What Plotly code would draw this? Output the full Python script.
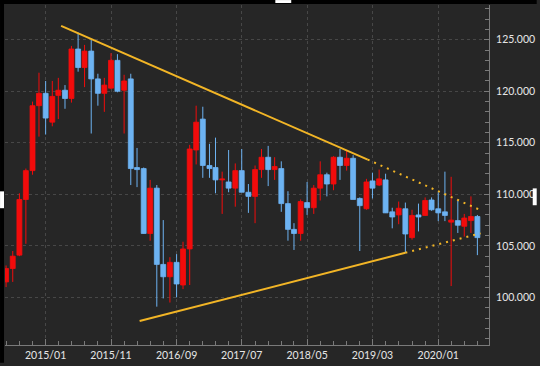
import plotly.graph_objects as go

months = [
    "2014-07", "2014-08", "2014-09", "2014-10", "2014-11", "2014-12",
    "2015-01", "2015-02", "2015-03", "2015-04", "2015-05", "2015-06",
    "2015-07", "2015-08", "2015-09", "2015-10", "2015-11", "2015-12",
    "2016-01", "2016-02", "2016-03", "2016-04", "2016-05", "2016-06",
    "2016-07", "2016-08", "2016-09", "2016-10", "2016-11", "2016-12",
    "2017-01", "2017-02", "2017-03", "2017-04", "2017-05", "2017-06",
    "2017-07", "2017-08", "2017-09", "2017-10", "2017-11", "2017-12",
    "2018-01", "2018-02", "2018-03", "2018-04", "2018-05", "2018-06",
    "2018-07", "2018-08", "2018-09", "2018-10", "2018-11", "2018-12",
    "2019-01", "2019-02", "2019-03", "2019-04", "2019-05", "2019-06",
    "2019-07", "2019-08", "2019-09", "2019-10", "2019-11", "2019-12",
    "2020-01", "2020-02", "2020-03", "2020-04", "2020-05", "2020-06",
    "2020-07",
]
open_ = [
    101.5, 102.8, 104.1, 109.5, 112.3, 118.6,
    119.8, 117.0, 119.6, 120.1, 119.3, 124.1,
    122.3, 123.9, 121.2, 119.8, 120.3, 123.0,
    120.1, 121.2, 112.6, 112.5, 106.2, 110.6,
    103.2, 102.0, 103.4, 101.2, 104.7, 114.3,
    117.3, 112.8, 112.6, 111.4, 111.2, 110.6,
    112.3, 110.2, 109.8, 112.4, 113.6, 112.4,
    112.5, 109.1, 106.6, 106.2, 109.2, 108.7,
    110.6, 111.9, 111.0, 113.6, 112.8, 113.5,
    109.6, 108.6, 111.3, 110.9, 111.4, 108.3,
    108.0, 108.6, 105.8, 108.0, 107.95, 109.45,
    108.6, 108.3, 107.3, 107.45, 106.9, 107.45,
    107.85,
]
high = [
    103.1, 104.5, 110.1, 112.5, 119.0, 121.8,
    121.0, 121.0, 121.3, 120.6, 124.4, 125.7,
    124.5, 125.0, 121.7, 121.3, 123.7, 123.6,
    121.6, 121.7, 114.5, 112.6, 111.4, 110.9,
    107.5, 103.9, 104.2, 105.4, 114.8, 118.6,
    118.5, 114.9, 115.5, 112.2, 114.3, 113.0,
    114.4, 111.0, 112.8, 114.4, 114.7, 113.6,
    113.2, 110.3, 107.2, 109.5, 111.2, 110.9,
    113.2, 112.1, 113.7, 114.4, 114.2, 113.8,
    109.7, 111.5, 112.1, 112.4, 112.0, 108.7,
    109.3, 109.2, 108.5, 109.1, 109.7, 109.7,
    110.2, 112.2, 111.7, 109.4, 108.1, 109.8,
    108.0,
]
low = [
    101.0, 101.5, 104.0, 105.2, 111.9, 115.6,
    115.8, 116.6, 117.3, 118.3, 118.9, 121.9,
    120.4, 115.9, 118.6, 118.0, 120.2, 119.9,
    115.9, 110.9, 110.7, 106.2, 105.5, 99.1,
    99.9, 99.5, 100.0, 100.8, 101.2, 112.9,
    111.6, 111.6, 110.1, 108.1, 110.2, 108.8,
    110.6, 108.2, 107.2, 111.6, 110.8, 111.4,
    108.3, 105.5, 104.6, 105.5, 108.0, 108.1,
    109.4, 109.8, 110.4, 111.4, 112.3, 109.6,
    104.5, 108.5, 109.6, 110.8, 108.2, 106.7,
    107.1, 104.3, 105.6, 106.4, 107.9, 108.4,
    107.4, 107.4, 101.1, 106.25, 105.9, 106.25,
    104.1,
]
close = [
    102.8, 104.0, 109.5, 112.3, 118.6, 119.8,
    117.4, 119.5, 120.1, 119.3, 124.1, 122.3,
    123.9, 121.2, 119.8, 120.6, 123.0, 120.0,
    121.0, 112.5, 112.4, 106.2, 110.6, 103.2,
    102.0, 103.4, 101.3, 104.7, 114.4, 117.0,
    112.8, 112.5, 111.4, 111.5, 110.6, 112.3,
    110.2, 109.8, 112.4, 113.6, 112.4, 112.7,
    109.1, 106.6, 106.2, 109.3, 108.7, 110.6,
    111.9, 111.0, 113.6, 112.8, 113.5, 109.5,
    108.9, 111.2, 110.6, 111.5, 108.2, 107.8,
    108.65, 106.15, 107.95, 107.8, 109.4, 108.5,
    108.2, 107.95, 107.5, 107.0, 107.7, 107.85,
    105.8,
]

# triangle trendlines (date, value)
upper_solid_x = ["2015-03-14", "2019-02-07"]
upper_solid_y = [126.35, 113.37]
upper_dot_x = ["2019-02-07", "2020-07-16"]
upper_dot_y = [113.37, 108.46]
lower_solid_x = ["2016-03-13", "2019-08-01"]
lower_solid_y = [97.7, 104.33]
lower_dot_x = ["2019-08-01", "2020-07-16"]
lower_dot_y = [104.33, 106.21]

x_range = ["2014-06-26", "2020-08-24"]
y_range = [95.38, 128.37]

dates = [m + "-01" for m in months]

RED = "#f20c0c"
BLUE = "#6db3f2"
TREND = "#f2b526"
BG = "#262626"
GRID = "#474747"
AXIS = "#7a7a7a"
TXT = "#e6e6e6"

BODY_WIDTH_MS = 23 * 86400000  # candle body width along the date axis

fig = go.Figure()

# wicks (high-low), one trace per direction
for up, color in [(True, RED), (False, BLUE)]:
    wx, wy = [], []
    for d, o, h, l, c in zip(dates, open_, high, low, close):
        if (c >= o) == up:
            wx += [d, d, None]
            wy += [l, h, None]
    fig.add_trace(go.Scatter(
        x=wx, y=wy, mode="lines", line=dict(color=color, width=1),
        showlegend=False, hoverinfo="skip",
    ))

# bodies (open-close)
base = [min(o, c) for o, c in zip(open_, close)]
span = [abs(c - o) for o, c in zip(open_, close)]
colors = [RED if c >= o else BLUE for o, c in zip(open_, close)]
fig.add_trace(go.Bar(
    x=dates, y=span, base=base, width=BODY_WIDTH_MS,
    marker=dict(color=colors, line=dict(color=colors, width=0.8)),
    showlegend=False, hoverinfo="skip",
))

for xs, ys, dash in [(upper_solid_x, upper_solid_y, "solid"),
                     (upper_dot_x, upper_dot_y, "2px,5px"),
                     (lower_solid_x, lower_solid_y, "solid"),
                     (lower_dot_x, lower_dot_y, "2px,5px")]:
    fig.add_trace(go.Scatter(
        x=xs, y=ys, mode="lines",
        line=dict(color=TREND, width=2, dash=dash),
        showlegend=False, hoverinfo="skip",
    ))

W, H = 540, 366
L, R, T, B = 5, 48, 5, 18
pw, ph = W - L - R, H - T - B


def px(p):
    return (p - L) / pw


def py(p):
    return (H - B - p) / ph


shapes = [
    # black strips at top and left edges
    dict(type="rect", xref="paper", yref="paper", x0=px(0), x1=px(W), y0=py(4), y1=py(0),
         fillcolor="#000000", line_width=0, layer="above"),
    dict(type="rect", xref="paper", yref="paper", x0=px(0), x1=px(4), y0=py(H), y1=py(0),
         fillcolor="#000000", line_width=0, layer="above"),
    # partially hidden white labels at the edges
    dict(type="rect", xref="paper", yref="paper", x0=px(277), x1=px(293), y0=py(3), y1=py(0),
         fillcolor="#ffffff", line_width=0, layer="above"),
    dict(type="rect", xref="paper", yref="paper", x0=px(0), x1=px(4), y0=py(210), y1=py(193),
         fillcolor="#ffffff", line_width=0, layer="above"),
    dict(type="rect", xref="paper", yref="paper", x0=px(536), x1=px(W), y0=py(207), y1=py(190),
         fillcolor="#ffffff", line_width=0, layer="above"),
]

fig.update_layout(
    width=W, height=H,
    margin=dict(l=L, r=R, t=T, b=B, pad=0),
    paper_bgcolor=BG, plot_bgcolor=BG,
    font=dict(family="Lato, sans-serif", size=10, color=TXT),
    shapes=shapes,
    barmode="overlay",
    xaxis=dict(
        type="date", range=x_range,
        tick0="2015-01-01", dtick="M10", tickformat="%Y/%m",
        ticks="inside", ticklen=6, tickcolor=AXIS, tickwidth=1,
        showline=True, linecolor=AXIS, linewidth=1,
        showgrid=True, gridcolor=GRID, griddash="3px,3px", gridwidth=1,
        zeroline=False,
        minor=dict(dtick="M2", tick0="2015-01-01", ticks="inside", ticklen=4,
                   tickcolor=AXIS, showgrid=False),
        tickfont=dict(size=10.5, color=TXT),
    ),
    yaxis=dict(
        side="right", range=y_range, dtick=5, tick0=100, tickformat=".3f",
        ticks="inside", ticklen=5, tickcolor=AXIS, tickwidth=1,
        showline=True, linecolor=AXIS, linewidth=1,
        showgrid=True, gridcolor=GRID, griddash="3px,3px", gridwidth=1,
        zeroline=False, ticklabelstandoff=4,
        minor=dict(dtick=1, ticks="inside", ticklen=4, tickcolor=AXIS, showgrid=False),
        tickfont=dict(size=10.5, color=TXT),
    ),
)

fig.write_html("out.html")
